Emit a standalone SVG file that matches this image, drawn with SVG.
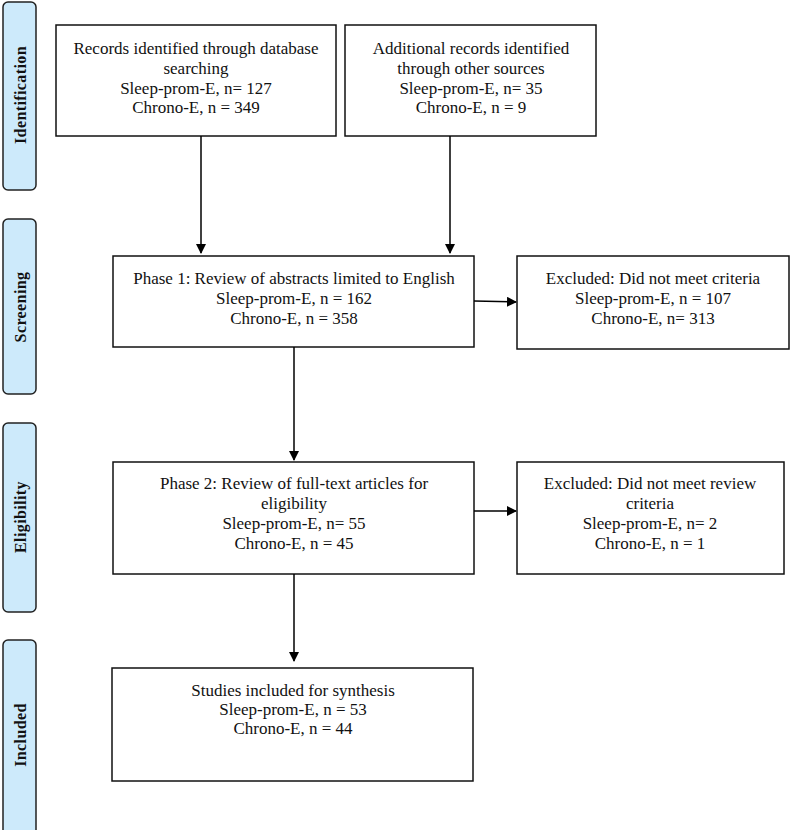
<svg xmlns="http://www.w3.org/2000/svg" width="791" height="830" viewBox="0 0 791 830">
<style>
.tab{fill:#cdeafb;stroke:#222;stroke-width:1.5}
.box{fill:#fff;stroke:#111;stroke-width:1.5}
.t{font-family:"Liberation Serif","Times New Roman",serif;font-size:17px;fill:#111;text-anchor:middle}
.tl{font-family:"Liberation Serif","Times New Roman",serif;font-size:16px;font-weight:bold;fill:#111;text-anchor:middle;letter-spacing:0.4px}
.c{stroke:#000;stroke-width:1.5;fill:none}
</style>
<defs>
<marker id="ah" markerWidth="10" markerHeight="10" refX="9" refY="5" orient="auto" markerUnits="userSpaceOnUse">
<path d="M0,0 L10,5 L0,10 z" fill="#000"/>
</marker>
</defs>
<rect width="791" height="830" fill="#fff"/>
<g id="tab-identification"><rect class="tab" x="3" y="2" width="33" height="188" rx="5"/><text class="tl" transform="translate(26,95) rotate(-90)">Identification</text></g>
<g id="tab-screening"><rect class="tab" x="3" y="219" width="33" height="175" rx="5"/><text class="tl" transform="translate(26,307) rotate(-90)">Screening</text></g>
<g id="tab-eligibility"><rect class="tab" x="3" y="423" width="33" height="189" rx="5"/><text class="tl" transform="translate(26,517) rotate(-90)">Eligibility</text></g>
<g id="tab-included"><rect class="tab" x="3" y="640" width="33" height="195" rx="5"/><text class="tl" transform="translate(26,735) rotate(-90)">Included</text></g>

<g id="box-db"><rect class="box" x="56" y="25" width="280" height="111"/>
<text class="t" x="196" y="54">Records identified through database</text>
<text class="t" x="196" y="74">searching</text>
<text class="t" x="196" y="94">Sleep-prom-E, n= 127</text>
<text class="t" x="196" y="113">Chrono-E, n = 349</text></g>

<g id="box-other"><rect class="box" x="345" y="25" width="251" height="111"/>
<text class="t" x="471" y="54">Additional records identified</text>
<text class="t" x="471" y="74">through other sources</text>
<text class="t" x="471" y="94">Sleep-prom-E, n= 35</text>
<text class="t" x="471" y="113">Chrono-E, n = 9</text></g>

<g id="box-phase1"><rect class="box" x="113" y="256" width="361" height="91"/>
<text class="t" x="294" y="284">Phase 1: Review of abstracts limited to English</text>
<text class="t" x="294" y="304">Sleep-prom-E, n = 162</text>
<text class="t" x="294" y="324">Chrono-E, n = 358</text></g>

<g id="box-excl1"><rect class="box" x="517" y="256" width="272" height="93"/>
<text class="t" x="653" y="284">Excluded: Did not meet criteria</text>
<text class="t" x="653" y="304">Sleep-prom-E, n = 107</text>
<text class="t" x="653" y="324">Chrono-E, n= 313</text></g>

<g id="box-phase2"><rect class="box" x="113" y="462" width="361" height="112"/>
<text class="t" x="294" y="489">Phase 2: Review of full-text articles for</text>
<text class="t" x="294" y="509">eligibility</text>
<text class="t" x="294" y="529">Sleep-prom-E, n= 55</text>
<text class="t" x="294" y="549">Chrono-E, n = 45</text></g>

<g id="box-excl2"><rect class="box" x="517" y="462" width="267" height="112"/>
<text class="t" x="650" y="489">Excluded: Did not meet review</text>
<text class="t" x="650" y="509">criteria</text>
<text class="t" x="650" y="529">Sleep-prom-E, n= 2</text>
<text class="t" x="650" y="549">Chrono-E, n = 1</text></g>

<g id="box-included"><rect class="box" x="112" y="668" width="361" height="113"/>
<text class="t" x="293" y="696">Studies included for synthesis</text>
<text class="t" x="293" y="715">Sleep-prom-E, n = 53</text>
<text class="t" x="293" y="734">Chrono-E, n = 44</text></g>

<g id="connectors">
<line class="c" x1="201" y1="136" x2="201" y2="253" marker-end="url(#ah)"/>
<line class="c" x1="450" y1="136" x2="450" y2="253" marker-end="url(#ah)"/>
<line class="c" x1="474" y1="301" x2="516" y2="302" marker-end="url(#ah)"/>
<line class="c" x1="294" y1="347" x2="294" y2="460" marker-end="url(#ah)"/>
<line class="c" x1="474" y1="511" x2="516" y2="511" marker-end="url(#ah)"/>
<line class="c" x1="294" y1="574" x2="294" y2="661" marker-end="url(#ah)"/>
</g>
</svg>
